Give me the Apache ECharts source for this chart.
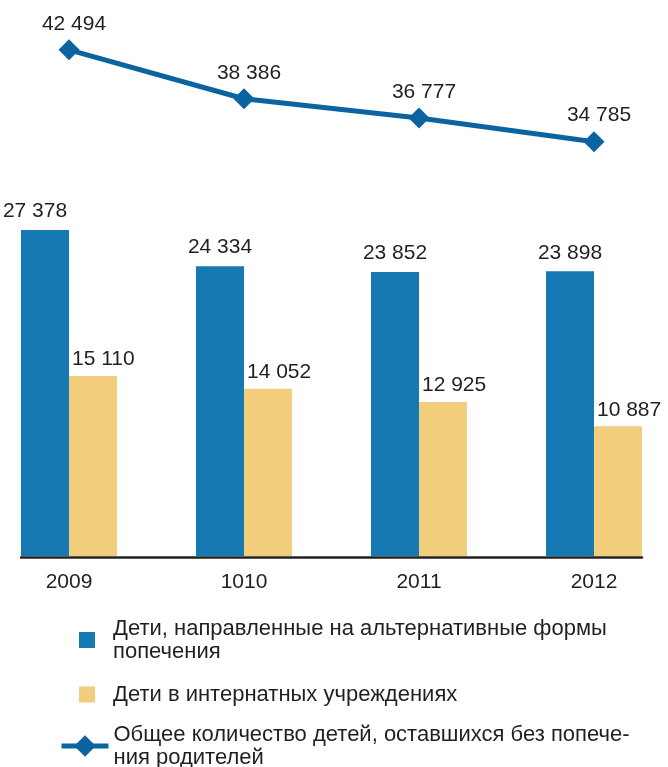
<!DOCTYPE html>
<html>
<head>
<meta charset="utf-8">
<script src="https://cdn.jsdelivr.net/npm/echarts@6/dist/echarts.min.js"></script>
<style>
  html, body { margin: 0; padding: 0; background: #fff; }
  #main { width: 668px; height: 767px; }
</style>
</head>
<body>
<div id="main"></div>
<script>
// data
const years = ['2009', '1010', '2011', '2012'];
const alternativeCare = [27378, 24334, 23852, 23898];
const institutions = [15110, 14052, 12925, 10887];
const totalWithoutCare = [42494, 38386, 36777, 34785];

const nameAlt = 'Дети, направленные на альтернативные формы\nпопечения';
const nameInst = 'Дети в интернатных учреждениях';
const nameTotal = 'Общее количество детей, оставшихся без попече-\nния родителей';

const BLUE = '#157ab4';
const YELLOW = '#f2cd7b';
const LINE = '#0b64a0';
const TEXT = '#231f20';
const FONT = '"Liberation Sans", Arial, sans-serif';

// thousands separated by a space: 27 378
const fmt = v => String(v).replace(/\B(?=(\d{3})+(?!\d))/g, ' ');

const chart = echarts.init(document.getElementById('main'));

const legendText = {
	color: TEXT,
	fontFamily: FONT,
	fontSize: 22,
	lineHeight: 23
};

const option = {
	animation: false,
	backgroundColor: '#fff',
	textStyle: { fontFamily: FONT, color: TEXT },
	grid: [
		{ left: 69, right: 74, top: 20, bottom: 211 },
		// only used to draw the base line, which runs past the outer bars
		{ left: 21, right: 26, top: 20, bottom: 210 }
	],
	xAxis: [
		{
			type: 'category',
			data: years,
			boundaryGap: false,
			axisLine: { show: false },
			axisTick: { show: false },
			axisLabel: { color: TEXT, fontSize: 21, margin: 16, fontFamily: FONT }
		},
		{
			type: 'value',
			gridIndex: 1,
			axisLine: { show: true, lineStyle: { color: '#222', width: 2.5 } },
			axisTick: { show: false },
			axisLabel: { show: false },
			splitLine: { show: false }
		}
	],
	yAxis: [
		{ type: 'value', min: 0, max: 45000, show: false },
		{ type: 'value', gridIndex: 1, show: false }
	],
	legend: [
		{
			data: [nameAlt],
			orient: 'vertical',
			left: 74,
			top: 612,
			itemWidth: 16,
			itemHeight: 16,
			icon: 'rect',
			textStyle: Object.assign({ padding: [0, 0, 0, 13] }, legendText)
		},
		{
			data: [nameInst],
			orient: 'vertical',
			left: 74,
			top: 678,
			itemWidth: 16,
			itemHeight: 16,
			icon: 'rect',
			textStyle: Object.assign({ padding: [0, 0, 0, 13] }, legendText)
		},
		{
			data: [nameTotal],
			orient: 'vertical',
			left: 54,
			top: 718,
			itemWidth: 47,
			itemHeight: 27,
			lineStyle: { color: LINE, width: 5 },
			textStyle: legendText
		}
	],
	series: [
		{
			name: nameAlt,
			type: 'bar',
			barWidth: 48,
			barGap: 0,
			itemStyle: { color: BLUE },
			label: {
				show: true,
				position: 'top',
				distance: 8,
				fontSize: 21,
				color: TEXT,
				fontFamily: FONT,
				formatter: p => fmt(p.value)
			},
			data: alternativeCare.map((v, i) =>
				i === 0 ? { value: v, label: { offset: [-10, 0] } } : v
			)
		},
		{
			name: nameInst,
			type: 'bar',
			barWidth: 48,
			barGap: 0,
			itemStyle: { color: YELLOW },
			label: {
				show: true,
				position: [3, -6],
				align: 'left',
				verticalAlign: 'bottom',
				fontSize: 21,
				color: TEXT,
				fontFamily: FONT,
				formatter: p => fmt(p.value)
			},
			data: institutions
		},
		{
			name: nameTotal,
			type: 'line',
			symbol: 'diamond',
			symbolSize: 21,
			lineStyle: { color: LINE, width: 5 },
			itemStyle: { color: LINE },
			label: {
				show: true,
				position: 'top',
				distance: 5,
				offset: [5, 0],
				fontSize: 21,
				color: TEXT,
				fontFamily: FONT,
				formatter: p => fmt(p.value)
			},
			z: 5,
			data: totalWithoutCare
		}
	]
};

chart.setOption(option);
</script>
</body>
</html>
